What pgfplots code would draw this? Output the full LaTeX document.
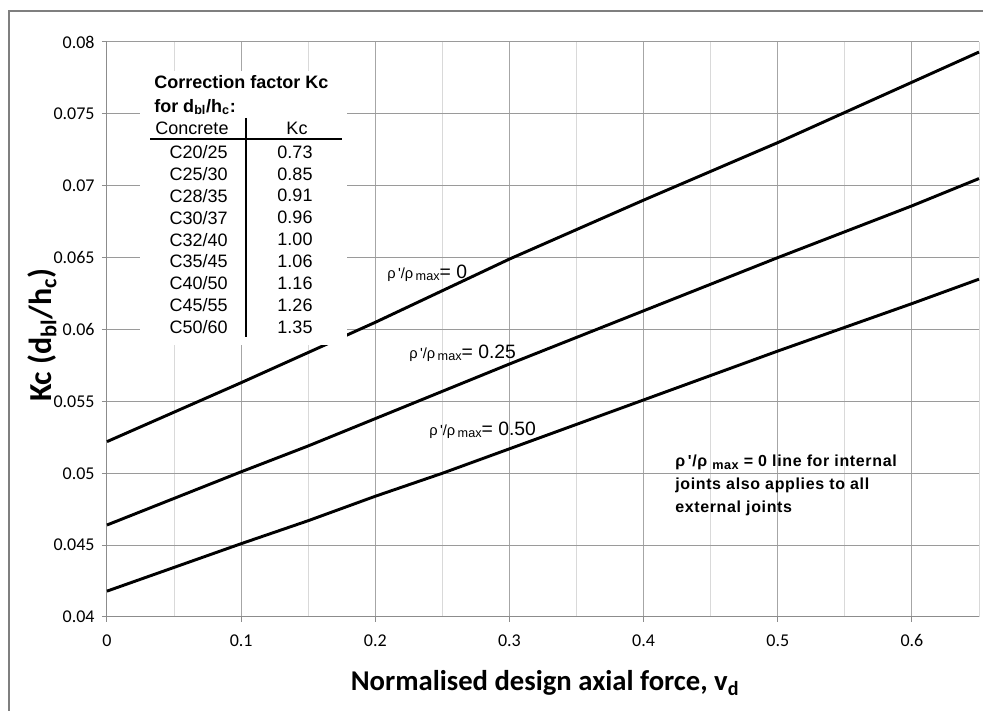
\documentclass[border=0pt]{standalone}
\usepackage{pgfplots}
\pgfplotsset{compat=1.18}
\usepackage{fontspec}
\setmainfont{Carlito}
\newfontfamily\arial{Liberation Sans}
\definecolor{gridmaj}{HTML}{A6A6A6}
\definecolor{gridmin}{HTML}{D9D9D9}
\definecolor{hgrid}{HTML}{9A9A9A}
\definecolor{axisgray}{HTML}{8C8C8C}
\definecolor{framegray}{HTML}{7F7F7F}
\newcommand\rhol[1]{{\fontsize{11}{13}\selectfont ρ\,'/ρ\,\raisebox{-0.35ex}{\fontsize{9.5}{11}\selectfont max}}{\fontsize{14.5}{16}\selectfont #1}}
\begin{document}
\begin{tikzpicture}[x=0.75pt,y=0.75pt]
\useasboundingbox (0,0) rectangle (983,711);
\draw[framegray, line width=1.1pt] (9,-5) -- (9,700) -- (990,700);
\begin{axis}[
  at={(80.25pt,70.5pt)}, anchor=south west,
  scale only axis, width=654pt, height=431.25pt,
  xmin=0, xmax=0.65, ymin=0.04, ymax=0.08,
  xtick={0,0.1,0.2,0.3,0.4,0.5,0.6},
  minor xtick={0.05,0.15,0.25,0.35,0.45,0.55,0.65},
  ytick={0.04,0.045,0.05,0.055,0.06,0.065,0.07,0.075,0.08},
  xmajorgrids, xminorgrids, ymajorgrids,
  major x grid style={gridmaj, line width=0.75pt},
  minor x grid style={gridmin, line width=0.75pt},
  major y grid style={hgrid, line width=0.75pt},
  axis x line*=bottom, axis y line*=left,
  axis line style={axisgray, line width=0.75pt, -},
  tick align=outside, major tick length=3.75pt, minor tick length=0pt,
  tick style={axisgray, line width=0.75pt},
  /pgf/number format/assume math mode=true,
  ticklabel style={font=\fontsize{13.5}{16}\selectfont, text=black},
  xticklabel style={/pgf/number format/.cd, fixed, precision=1, /tikz/.cd, yshift=-6pt},
  yticklabel style={/pgf/number format/.cd, fixed, precision=3, /tikz/.cd, xshift=-2pt},
  scaled y ticks=false, scaled x ticks=false,
  clip=false,
]
\addplot[black, line width=2.2pt] coordinates {
 (0,0.0522) (0.1,0.0563) (0.2,0.0605) (0.3,0.0649) (0.4,0.0690) (0.5,0.0730) (0.55,0.0751) (0.6,0.0772) (0.65,0.0793)};
\addplot[black, line width=2.2pt] coordinates {
 (0,0.0464) (0.1,0.0501) (0.15,0.0519) (0.2,0.0538) (0.25,0.0557) (0.3,0.0576) (0.4,0.0613) (0.5,0.0650) (0.55,0.0668) (0.6,0.0686) (0.65,0.0705)};
\addplot[black, line width=2.2pt] coordinates {
 (0,0.0418) (0.1,0.0451) (0.15,0.0467) (0.2,0.0484) (0.25,0.0500) (0.3,0.0517) (0.4,0.0551) (0.5,0.0585) (0.6,0.0618) (0.65,0.0635)};
\end{axis}
% correction-factor table
\fill[white] (140,366) rectangle (347,640);
\begin{scope}[every node/.style={font=\arial\fontsize{13.5}{16}\selectfont, inner sep=0pt}]
\node[anchor=west, font=\arial\bfseries\fontsize{13.5}{16}\selectfont] at (154,629) {Correction factor Kc};
\node[anchor=west, font=\arial\bfseries\fontsize{13.5}{16}\selectfont] at (154,604) {for d\textsubscript{bl}/h\textsubscript{c}:};
\node at (192,583) {Concrete};
\node at (297,583) {Kc};
\foreach \c/\k [count=\i from 0] in {{C20/25}/0.73,{C25/30}/0.85,{C28/35}/0.91,{C30/37}/0.96,{C32/40}/1.00,{C35/45}/1.06,{C40/50}/1.16,{C45/55}/1.26,{C50/60}/1.35}{
  \node[anchor=east] at (228,559-21.9*\i) {\c};
  \node at (295,559-21.9*\i) {\k};
}
\end{scope}
\draw[line width=1.5pt] (150,572) -- (342,572);
\draw[line width=1.5pt] (246,593) -- (246,374);
% curve labels
\node[anchor=west, inner sep=0pt, font=\arial] at (387,438) {\rhol{= 0}};
\node[anchor=west, inner sep=0pt, font=\arial] at (409,358) {\rhol{= 0.25}};
\node[anchor=west, inner sep=0pt, font=\arial] at (429,281) {\rhol{= 0.50}};
\node[anchor=west, align=left, inner sep=0pt, font=\arial\bfseries\fontsize{12}{17.25}\selectfont\addfontfeature{LetterSpace=4}] at (675,226)
 {ρ\,'/ρ \raisebox{-0.35ex}{\fontsize{9.5}{11}\selectfont max} = 0 line for internal\\ joints also applies to all\\ external joints};
% axis titles
\node[rotate=90, font=\bfseries\fontsize{24}{28}\selectfont] at (42,376) {Kc (d\textsubscript{bl}/h\textsubscript{c})};
\node[font=\bfseries\fontsize{21.5}{26}\selectfont] at (545,28) {Normalised design axial force, v\textsubscript{d}};
\end{tikzpicture}
\end{document}
